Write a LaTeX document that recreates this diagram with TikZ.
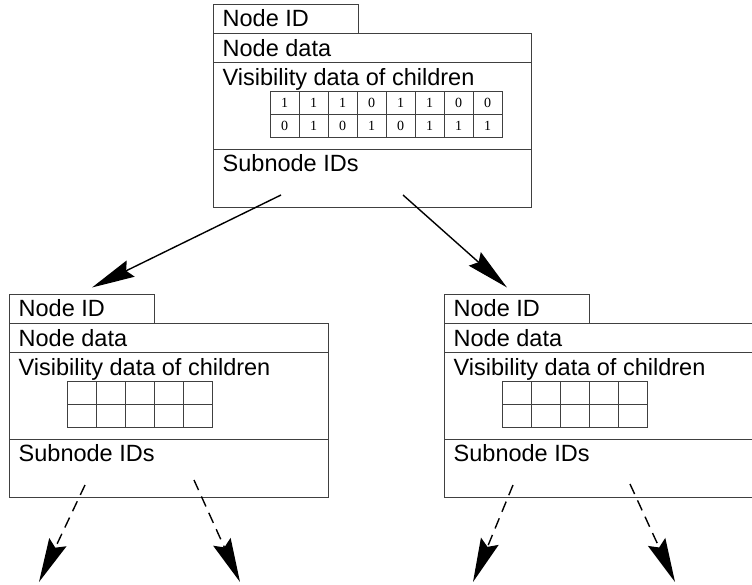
\documentclass[tikz,border=0pt]{standalone}
\usepackage{fontspec}
\setmainfont{Liberation Sans}
\newfontfamily\digitfont{Liberation Serif}
\usetikzlibrary{arrows.meta}
\tikzset{
  sect/.style={draw=black!75, line width=0.9pt, rectangle, inner sep=0pt, outer sep=0pt, anchor=north west},
  cell/.style={draw=black!75, line width=0.8pt, rectangle, inner sep=0pt, outer sep=0pt, anchor=north west,
    minimum width=29pt, minimum height=23pt, font=\digitfont\fontsize{14}{16}\selectfont},
  lbl/.style={inner sep=0pt, anchor=base west, font=\fontsize{23.5}{27}\selectfont},
  solidarrow/.style={line width=1.4pt, -{Stealth[length=43pt,width=18pt,inset=5pt]}},
  dasharrow/.style={line width=1.4pt, dash pattern=on 11pt off 7pt, -{Stealth[length=44pt,width=19pt,inset=6pt]}}
}
\newcommand\recordbox[4]{%
  \node[sect, minimum width=145pt, minimum height=29pt] (#1-id) at (#2,#3) {};
  \node[sect, minimum width=#4, minimum height=29pt] (#1-data) at (#2,#3+29) {};
  \node[sect, minimum width=#4, minimum height=87pt] (#1-vis) at (#2,#3+58) {};
  \node[sect, minimum width=#4, minimum height=58pt] (#1-sub) at (#2,#3+145) {};
  \node[lbl] (#1-idl) at (#2+9.5,#3+22.7) {Node ID};
  \node[lbl] (#1-datal) at (#2+9.5,#3+52) {Node data};
  \node[lbl] (#1-visl) at (#2+9.5,#3+81) {Visibility data of children};
  \node[lbl] (#1-subl) at (#2+9.5,#3+167.7) {Subnode IDs};
}
\newcommand\emptytable[3]{%
  \foreach \c in {1,...,5}{
    \node[cell] (#1-a\c) at (#2+29*\c-29,#3) {};
    \node[cell] (#1-b\c) at (#2+29*\c-29,#3+23) {};
  }
}
\begin{document}
\begin{tikzpicture}[x=1pt,y=-1pt]
\useasboundingbox (0,0) rectangle (752,584);
% top record
\recordbox{t}{213}{4}{318pt}
\foreach [count=\c] \v in {1,1,1,0,1,1,0,0}{
  \node[cell] (t-a\c) at (270+29*\c-29,91) {\v};
}
\foreach [count=\c] \v in {0,1,0,1,0,1,1,1}{
  \node[cell] (t-b\c) at (270+29*\c-29,114) {\v};
}
% left record
\recordbox{l}{9}{294}{319pt}
\emptytable{l}{67}{381}
% right record (cut by the page edge)
\begin{scope}
\clip (0,0) rectangle (752,584);
\recordbox{r}{444}{294}{330pt}
\emptytable{r}{502}{381}
\end{scope}
% connectors
\coordinate (t-s1) at (281,195);
\coordinate (t-s2) at (403,195);
\coordinate (l-in) at (92,287.5);
\coordinate (r-in) at (507,287.5);
\draw[solidarrow] (t-s1) -- (l-in);
\draw[solidarrow] (t-s2) -- (r-in);
\coordinate (l-s1) at (85,485);
\coordinate (l-s2) at (194,480);
\coordinate (r-s1) at (513,485);
\coordinate (r-s2) at (630,484);
\coordinate (l-e1) at (39,582);
\coordinate (l-e2) at (240,582);
\coordinate (r-e1) at (473,582);
\coordinate (r-e2) at (675,582);
\draw[dasharrow] (l-s1) -- (l-e1);
\draw[dasharrow] (l-s2) -- (l-e2);
\draw[dasharrow] (r-s1) -- (r-e1);
\draw[dasharrow] (r-s2) -- (r-e2);
\end{tikzpicture}
\end{document}
